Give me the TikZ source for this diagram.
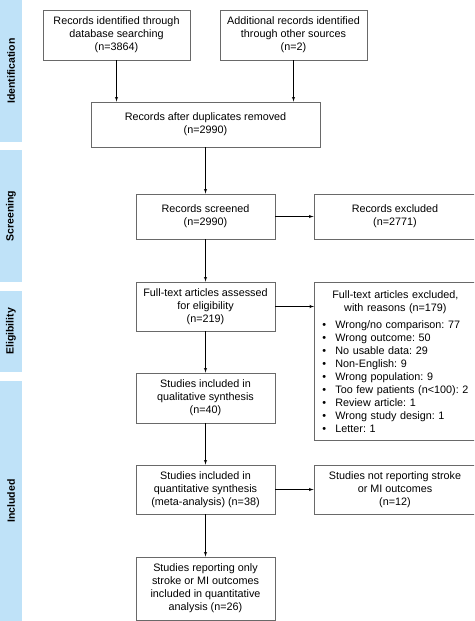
\documentclass[tikz,border=0pt]{standalone}
\usepackage{fontspec}
\setmainfont{Liberation Sans}
\usetikzlibrary{arrows}
\definecolor{phaseblue}{RGB}{191,226,248}
\definecolor{boxgray}{RGB}{105,105,105}
\newcommand{\rsn}{\makebox[15pt][l]{\hspace{2pt}\textbullet}}
\frenchspacing

\begin{document}
\begin{tikzpicture}[x=1pt, y=-1pt,
  box/.style={draw=boxgray, line width=0.8pt, align=center, inner sep=0pt,
    font=\fontsize{10.8}{13}\selectfont},
  phase/.style={rotate=90, font=\fontsize{10.5}{12}\selectfont\bfseries},
  arr/.style={black, line width=0.6pt, ->, >=latex'}]
\useasboundingbox (0,0) rectangle (474,621);
\clip (0,0) rectangle (474,621);
% phase bars on the left
\fill[phaseblue] (0,0) rectangle (22,142);
\fill[phaseblue] (0,150) rectangle (22,282);
\fill[phaseblue] (0,291) rectangle (22,372);
\fill[phaseblue] (0,381) rectangle (22,621);
\node[phase] (idlab) at (11,71) {Identification};
\node[phase] (scrlab) at (11,216) {Screening};
\node[phase] (elilab) at (11,331.5) {Eligibility};
\node[phase] (inclab) at (11,501) {Included};
% boxes
\node[box, minimum width=147pt, minimum height=50pt] (recA) at (116.5,35)
  {Records identified through\\ database searching\\ (n=3864)};
\node[box, minimum width=147pt, minimum height=50pt] (recB) at (293.5,35)
  {Additional records identified\\ through other sources\\ (n=2)};
\node[box, minimum width=229pt, minimum height=45pt] (recC) at (205.5,124.5)
  {Records after duplicates removed\\ (n=2990)};
\node[box, minimum width=139pt, minimum height=45pt] (recD) at (205.5,216.5)
  {Records screened\\ (n=2990)};
\node[box, minimum width=162pt, minimum height=45pt] (recE) at (395,216.5)
  {Records excluded\\ (n=2771)};
\node[box, minimum width=139pt, minimum height=49pt] (recF) at (205.5,306.5)
  {Full-text articles assessed\\ for eligibility\\ (n=219)};
\node[box, anchor=north west, minimum width=162pt, minimum height=158pt,
  text width=150pt, align=left] (recG) at (314,282)
  {{\centering Full-text articles excluded,\\ with reasons (n=179)\par}
   \vspace{4pt}
   \rsn Wrong/no comparison: 77\\
   \rsn Wrong outcome: 50\\
   \rsn No usable data: 29\\
   \rsn Non-English: 9\\
   \rsn Wrong population: 9\\
   \rsn Too few patients (n<100): 2\\
   \rsn Review article: 1\\
   \rsn Wrong study design: 1\\
   \rsn Letter: 1};
\node[box, minimum width=139pt, minimum height=50pt] (recH) at (205.5,398)
  {Studies included in\\ qualitative synthesis\\ (n=40)};
\node[box, minimum width=139pt, minimum height=49pt] (recI) at (205.5,489.5)
  {Studies included in\\ quantitative synthesis\\ (meta-analysis) (n=38)};
\node[box, minimum width=162pt, minimum height=49pt] (recJ) at (395,489.5)
  {Studies not reporting stroke\\ or MI outcomes\\ (n=12)};
\node[box, minimum width=139pt, minimum height=63pt] (recK) at (205.5,588.5)
  {Studies reporting only\\ stroke or MI outcomes\\ included in quantitative\\ analysis (n=26)};
% arrows
\draw[arr] (recA.south) -- (recA.south |- recC.north);
\draw[arr] (recB.south) -- (recB.south |- recC.north);
\draw[arr] (recC) -- (recD);
\draw[arr] (recD) -- (recE);
\draw[arr] (recD) -- (recF);
\draw[arr] (recF.east) -- (recF.east -| recG.west);
\draw[arr] (recF) -- (recH);
\draw[arr] (recH) -- (recI);
\draw[arr] (recI) -- (recJ);
\draw[arr] (recI) -- (recK);
\end{tikzpicture}
\end{document}
